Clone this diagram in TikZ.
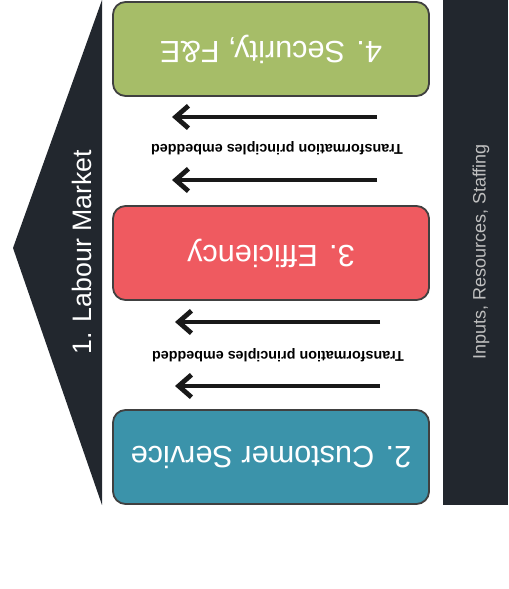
\documentclass[tikz,border=0pt]{standalone}
\usepackage{fontspec}
\setmainfont{Liberation Sans}
\usetikzlibrary{arrows.meta, positioning}

\definecolor{navy}{HTML}{22272E}
\definecolor{secgreen}{HTML}{A6BD68}
\definecolor{effred}{HTML}{EF5A60}
\definecolor{custblue}{HTML}{3B93AA}

\begin{document}
\begin{tikzpicture}[x=0.025cm, y=-0.025cm,
    area/.style={draw=black!75, line width=1.3pt, rounded corners=9pt, minimum width=7.9cm,
      minimum height=2.35cm, text=white, font=\fontsize{21.8}{24}\selectfont, rotate=180},
    flow/.style={-{Straight Barb[length=3.2mm, width=5.6mm, line width=3.4pt]}, line width=3pt, black!90},
    note/.style={font=\bfseries\fontsize{10.2}{12}\selectfont, rotate=180}
  ]
    \useasboundingbox (0,0) rectangle (508,589);

    % side bands
    \fill[navy] (102,0) -- (13,248) -- (102,505) -- cycle;
    \fill[navy] (443,0) rectangle (508,505);
    \node[text=white, rotate=90, font=\fontsize{19}{22}\selectfont] (lab) at (82,252) {1. Labour Market};
    \node[text=black!25, rotate=90, font=\fontsize{12.8}{15}\selectfont] (inp) at (481,252) {Inputs, Resources, Staffing};

    % boxes (rotated, so placed by coordinates)
    \node[area, fill=secgreen] (sec) at (271,49) {4. Security, F\&E};
    \node[area, fill=effred] (eff) at (271,253) {3. Efficiency};
    \node[area, fill=custblue] (cust) at (271,457) {2. Customer Service};

    % arrows between the boxes
    \coordinate (a1) at (377,117); \coordinate (b1) at (172,117);
    \coordinate (a2) at (377,180); \coordinate (b2) at (172,180);
    \coordinate (a3) at (380,322); \coordinate (b3) at (175,322);
    \coordinate (a4) at (380,386); \coordinate (b4) at (175,386);
    \draw[flow] (a1) -- (b1);
    \draw[flow] (a2) -- (b2);
    \draw[flow] (a3) -- (b3);
    \draw[flow] (a4) -- (b4);
    \node[note] (t1) at (277,148) {Transformation principles embedded};
    \node[note] (t2) at (278,355) {Transformation principles embedded};
  \end{tikzpicture}
\end{document}
